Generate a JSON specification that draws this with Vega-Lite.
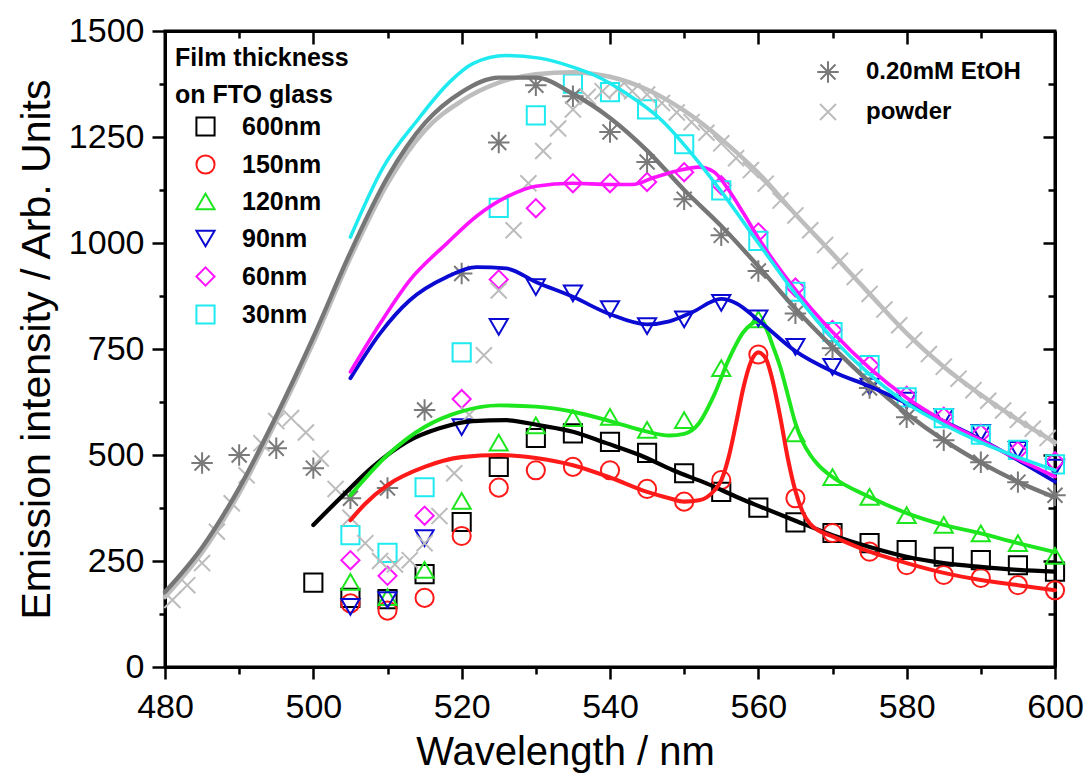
{
  "$schema": "https://vega.github.io/schema/vega-lite/v6.json",
  "width": 890,
  "height": 636,
  "autosize": {"type": "none"},
  "padding": {"left": 165, "top": 31, "right": 37, "bottom": 115},
  "background": "white",
  "config": {
    "view": {"stroke": "black", "strokeWidth": 3},
    "font": "Liberation Sans",
    "legend": {"padding": 0}
  },
  "datasets": {
    "film": [
      {"s":"600nm","x":500,"y":199},{"s":"600nm","x":505,"y":163},{"s":"600nm","x":510,"y":160},{"s":"600nm","x":515,"y":219},{"s":"600nm","x":520,"y":342},{"s":"600nm","x":525,"y":472},{"s":"600nm","x":530,"y":540},{"s":"600nm","x":535,"y":551},{"s":"600nm","x":540,"y":531},{"s":"600nm","x":545,"y":505},{"s":"600nm","x":550,"y":457},{"s":"600nm","x":555,"y":413},{"s":"600nm","x":560,"y":376},{"s":"600nm","x":565,"y":341},{"s":"600nm","x":570,"y":316},{"s":"600nm","x":575,"y":292},{"s":"600nm","x":580,"y":276},{"s":"600nm","x":585,"y":260},{"s":"600nm","x":590,"y":252},{"s":"600nm","x":595,"y":240},{"s":"600nm","x":600,"y":225},
      {"s":"150nm","x":505,"y":150},{"s":"150nm","x":510,"y":133},{"s":"150nm","x":515,"y":163},{"s":"150nm","x":520,"y":309},{"s":"150nm","x":525,"y":423},{"s":"150nm","x":530,"y":464},{"s":"150nm","x":535,"y":472},{"s":"150nm","x":540,"y":464},{"s":"150nm","x":545,"y":420},{"s":"150nm","x":550,"y":390},{"s":"150nm","x":555,"y":441},{"s":"150nm","x":560,"y":737},{"s":"150nm","x":565,"y":398},{"s":"150nm","x":570,"y":316},{"s":"150nm","x":575,"y":272},{"s":"150nm","x":580,"y":240},{"s":"150nm","x":585,"y":217},{"s":"150nm","x":590,"y":210},{"s":"150nm","x":595,"y":193},{"s":"150nm","x":600,"y":181},
      {"s":"120nm","x":505,"y":201},{"s":"120nm","x":510,"y":165},{"s":"120nm","x":515,"y":229},{"s":"120nm","x":520,"y":392},{"s":"120nm","x":525,"y":529},{"s":"120nm","x":530,"y":570},{"s":"120nm","x":535,"y":587},{"s":"120nm","x":540,"y":590},{"s":"120nm","x":545,"y":559},{"s":"120nm","x":550,"y":582},{"s":"120nm","x":555,"y":705},{"s":"120nm","x":560,"y":820},{"s":"120nm","x":565,"y":551},{"s":"120nm","x":570,"y":448},{"s":"120nm","x":575,"y":401},{"s":"120nm","x":580,"y":358},{"s":"120nm","x":585,"y":335},{"s":"120nm","x":590,"y":315},{"s":"120nm","x":595,"y":292},{"s":"120nm","x":600,"y":262},
      {"s":"90nm","x":505,"y":142},{"s":"90nm","x":510,"y":158},{"s":"90nm","x":515,"y":304},{"s":"90nm","x":520,"y":566},{"s":"90nm","x":525,"y":802},{"s":"90nm","x":530,"y":896},{"s":"90nm","x":535,"y":881},{"s":"90nm","x":540,"y":844},{"s":"90nm","x":545,"y":804},{"s":"90nm","x":550,"y":820},{"s":"90nm","x":555,"y":859},{"s":"90nm","x":560,"y":822},{"s":"90nm","x":565,"y":755},{"s":"90nm","x":570,"y":708},{"s":"90nm","x":575,"y":661},{"s":"90nm","x":580,"y":628},{"s":"90nm","x":585,"y":590},{"s":"90nm","x":590,"y":552},{"s":"90nm","x":595,"y":512},{"s":"90nm","x":600,"y":470},
      {"s":"60nm","x":505,"y":252},{"s":"60nm","x":510,"y":215},{"s":"60nm","x":515,"y":357},{"s":"60nm","x":520,"y":632},{"s":"60nm","x":525,"y":914},{"s":"60nm","x":530,"y":1082},{"s":"60nm","x":535,"y":1141},{"s":"60nm","x":540,"y":1141},{"s":"60nm","x":545,"y":1144},{"s":"60nm","x":550,"y":1167},{"s":"60nm","x":555,"y":1136},{"s":"60nm","x":560,"y":1025},{"s":"60nm","x":565,"y":895},{"s":"60nm","x":570,"y":795},{"s":"60nm","x":575,"y":712},{"s":"60nm","x":580,"y":640},{"s":"60nm","x":585,"y":590},{"s":"60nm","x":590,"y":550},{"s":"60nm","x":595,"y":510},{"s":"60nm","x":600,"y":485},
      {"s":"30nm","x":505,"y":311},{"s":"30nm","x":510,"y":269},{"s":"30nm","x":515,"y":424},{"s":"30nm","x":520,"y":742},{"s":"30nm","x":525,"y":1083},{"s":"30nm","x":530,"y":1301},{"s":"30nm","x":535,"y":1376},{"s":"30nm","x":540,"y":1356},{"s":"30nm","x":545,"y":1315},{"s":"30nm","x":550,"y":1233},{"s":"30nm","x":555,"y":1124},{"s":"30nm","x":560,"y":1005},{"s":"30nm","x":565,"y":885},{"s":"30nm","x":570,"y":790},{"s":"30nm","x":575,"y":712},{"s":"30nm","x":580,"y":636},{"s":"30nm","x":585,"y":587},{"s":"30nm","x":590,"y":548},{"s":"30nm","x":595,"y":512},{"s":"30nm","x":600,"y":478}
    ],
    "ref": [
      {"s":"0.20mM EtOH","x":485,"y":481},{"s":"0.20mM EtOH","x":490,"y":500},{"s":"0.20mM EtOH","x":495,"y":516},{"s":"0.20mM EtOH","x":500,"y":469},{"s":"0.20mM EtOH","x":505,"y":398},{"s":"0.20mM EtOH","x":510,"y":422},{"s":"0.20mM EtOH","x":515,"y":606},{"s":"0.20mM EtOH","x":520,"y":928},{"s":"0.20mM EtOH","x":525,"y":1237},{"s":"0.20mM EtOH","x":530,"y":1372},{"s":"0.20mM EtOH","x":535,"y":1346},{"s":"0.20mM EtOH","x":540,"y":1262},{"s":"0.20mM EtOH","x":545,"y":1191},{"s":"0.20mM EtOH","x":550,"y":1103},{"s":"0.20mM EtOH","x":555,"y":1018},{"s":"0.20mM EtOH","x":560,"y":934},{"s":"0.20mM EtOH","x":565,"y":834},{"s":"0.20mM EtOH","x":570,"y":752},{"s":"0.20mM EtOH","x":575,"y":658},{"s":"0.20mM EtOH","x":580,"y":589},{"s":"0.20mM EtOH","x":585,"y":535},{"s":"0.20mM EtOH","x":590,"y":483},{"s":"0.20mM EtOH","x":595,"y":436},{"s":"0.20mM EtOH","x":600,"y":405},
      {"s":"powder","x":481,"y":158},{"s":"powder","x":483,"y":193},{"s":"powder","x":485,"y":245},{"s":"powder","x":487,"y":319},{"s":"powder","x":489,"y":386},{"s":"powder","x":491,"y":452},{"s":"powder","x":493,"y":528},{"s":"powder","x":495,"y":580},{"s":"powder","x":497,"y":587},{"s":"powder","x":499,"y":553},{"s":"powder","x":501,"y":492},{"s":"powder","x":503,"y":420},{"s":"powder","x":505,"y":352},{"s":"powder","x":507,"y":292},{"s":"powder","x":509,"y":250},{"s":"powder","x":511,"y":242},{"s":"powder","x":513,"y":252},{"s":"powder","x":515,"y":292},{"s":"powder","x":517,"y":356},{"s":"powder","x":519,"y":457},{"s":"powder","x":521,"y":595},{"s":"powder","x":523,"y":735},{"s":"powder","x":525,"y":888},{"s":"powder","x":527,"y":1030},{"s":"powder","x":529,"y":1141},{"s":"powder","x":531,"y":1217},{"s":"powder","x":533,"y":1270},{"s":"powder","x":535,"y":1315},{"s":"powder","x":537,"y":1345},{"s":"powder","x":539,"y":1358},{"s":"powder","x":541,"y":1362},{"s":"powder","x":543,"y":1358},{"s":"powder","x":545,"y":1350},{"s":"powder","x":547,"y":1330},{"s":"powder","x":549,"y":1308},{"s":"powder","x":551,"y":1285},{"s":"powder","x":553,"y":1260},{"s":"powder","x":555,"y":1235},{"s":"powder","x":557,"y":1200},{"s":"powder","x":559,"y":1172},{"s":"powder","x":561,"y":1140},{"s":"powder","x":563,"y":1100},{"s":"powder","x":565,"y":1065},{"s":"powder","x":567,"y":1030},{"s":"powder","x":569,"y":995},{"s":"powder","x":571,"y":958},{"s":"powder","x":573,"y":920},{"s":"powder","x":575,"y":880},{"s":"powder","x":577,"y":843},{"s":"powder","x":579,"y":806},{"s":"powder","x":581,"y":771},{"s":"powder","x":583,"y":738},{"s":"powder","x":585,"y":708},{"s":"powder","x":587,"y":680},{"s":"powder","x":589,"y":653},{"s":"powder","x":591,"y":628},{"s":"powder","x":593,"y":605},{"s":"powder","x":595,"y":583},{"s":"powder","x":597,"y":562},{"s":"powder","x":599,"y":540}
    ],
    "fits": [
      {"s":"powder","x":480,"y":165},{"s":"powder","x":485,"y":270},{"s":"powder","x":490,"y":410},{"s":"powder","x":495,"y":580},{"s":"powder","x":500,"y":765},{"s":"powder","x":505,"y":965},{"s":"powder","x":510,"y":1140},{"s":"powder","x":515,"y":1265},{"s":"powder","x":520,"y":1335},{"s":"powder","x":525,"y":1378},{"s":"powder","x":530,"y":1398},{"s":"powder","x":535,"y":1403},{"s":"powder","x":540,"y":1392},{"s":"powder","x":545,"y":1362},{"s":"powder","x":550,"y":1312},{"s":"powder","x":555,"y":1245},{"s":"powder","x":560,"y":1165},{"s":"powder","x":565,"y":1068},{"s":"powder","x":570,"y":975},{"s":"powder","x":575,"y":880},{"s":"powder","x":580,"y":787},{"s":"powder","x":585,"y":708},{"s":"powder","x":590,"y":642},{"s":"powder","x":595,"y":583},{"s":"powder","x":600,"y":530},
      {"s":"0.20mM EtOH","x":480,"y":177},{"s":"0.20mM EtOH","x":485,"y":282},{"s":"0.20mM EtOH","x":490,"y":422},{"s":"0.20mM EtOH","x":495,"y":592},{"s":"0.20mM EtOH","x":500,"y":778},{"s":"0.20mM EtOH","x":505,"y":978},{"s":"0.20mM EtOH","x":510,"y":1155},{"s":"0.20mM EtOH","x":515,"y":1282},{"s":"0.20mM EtOH","x":520,"y":1356},{"s":"0.20mM EtOH","x":525,"y":1390},{"s":"0.20mM EtOH","x":530,"y":1390},{"s":"0.20mM EtOH","x":535,"y":1352},{"s":"0.20mM EtOH","x":540,"y":1295},{"s":"0.20mM EtOH","x":545,"y":1218},{"s":"0.20mM EtOH","x":550,"y":1125},{"s":"0.20mM EtOH","x":555,"y":1040},{"s":"0.20mM EtOH","x":560,"y":945},{"s":"0.20mM EtOH","x":565,"y":845},{"s":"0.20mM EtOH","x":570,"y":755},{"s":"0.20mM EtOH","x":575,"y":672},{"s":"0.20mM EtOH","x":580,"y":598},{"s":"0.20mM EtOH","x":585,"y":535},{"s":"0.20mM EtOH","x":590,"y":482},{"s":"0.20mM EtOH","x":595,"y":437},{"s":"0.20mM EtOH","x":600,"y":400},
      {"s":"600nm","x":500,"y":335},{"s":"600nm","x":503.6,"y":398},{"s":"600nm","x":508,"y":472},{"s":"600nm","x":512.6,"y":531},{"s":"600nm","x":517,"y":563},{"s":"600nm","x":521.5,"y":580},{"s":"600nm","x":526,"y":582},{"s":"600nm","x":530.5,"y":570},{"s":"600nm","x":535,"y":555},{"s":"600nm","x":539.5,"y":528},{"s":"600nm","x":544,"y":500},{"s":"600nm","x":548.5,"y":464},{"s":"600nm","x":553,"y":433},{"s":"600nm","x":557.5,"y":398},{"s":"600nm","x":560,"y":380},{"s":"600nm","x":565,"y":345},{"s":"600nm","x":570,"y":311},{"s":"600nm","x":575,"y":283},{"s":"600nm","x":580,"y":260},{"s":"600nm","x":585,"y":245},{"s":"600nm","x":590,"y":236},{"s":"600nm","x":595,"y":229},{"s":"600nm","x":600,"y":225},
      {"s":"150nm","x":505,"y":346},{"s":"150nm","x":507,"y":385},{"s":"150nm","x":510,"y":429},{"s":"150nm","x":515,"y":472},{"s":"150nm","x":520,"y":495},{"s":"150nm","x":525,"y":500},{"s":"150nm","x":530,"y":493},{"s":"150nm","x":535,"y":476},{"s":"150nm","x":540,"y":447},{"s":"150nm","x":545,"y":413},{"s":"150nm","x":548,"y":398},{"s":"150nm","x":550,"y":390},{"s":"150nm","x":552,"y":393},{"s":"150nm","x":554,"y":415},{"s":"150nm","x":555,"y":440},{"s":"150nm","x":556,"y":495},{"s":"150nm","x":557,"y":575},{"s":"150nm","x":558,"y":660},{"s":"150nm","x":559,"y":720},{"s":"150nm","x":560,"y":742},{"s":"150nm","x":561,"y":728},{"s":"150nm","x":562,"y":670},{"s":"150nm","x":563,"y":585},{"s":"150nm","x":564,"y":490},{"s":"150nm","x":565,"y":415},{"s":"150nm","x":566,"y":365},{"s":"150nm","x":567,"y":337},{"s":"150nm","x":568,"y":323},{"s":"150nm","x":570,"y":308},{"s":"150nm","x":575,"y":272},{"s":"150nm","x":580,"y":245},{"s":"150nm","x":585,"y":222},{"s":"150nm","x":590,"y":205},{"s":"150nm","x":595,"y":193},{"s":"150nm","x":600,"y":181},
      {"s":"120nm","x":505,"y":405},{"s":"120nm","x":510,"y":500},{"s":"120nm","x":515,"y":566},{"s":"120nm","x":520,"y":603},{"s":"120nm","x":525,"y":617},{"s":"120nm","x":530,"y":614},{"s":"120nm","x":535,"y":602},{"s":"120nm","x":540,"y":580},{"s":"120nm","x":545,"y":555},{"s":"120nm","x":548,"y":546},{"s":"120nm","x":550,"y":550},{"s":"120nm","x":552,"y":575},{"s":"120nm","x":554,"y":640},{"s":"120nm","x":556,"y":725},{"s":"120nm","x":558,"y":790},{"s":"120nm","x":560,"y":815},{"s":"120nm","x":561,"y":800},{"s":"120nm","x":562,"y":755},{"s":"120nm","x":563,"y":705},{"s":"120nm","x":564,"y":640},{"s":"120nm","x":565,"y":575},{"s":"120nm","x":566,"y":530},{"s":"120nm","x":567,"y":500},{"s":"120nm","x":568,"y":478},{"s":"120nm","x":570,"y":448},{"s":"120nm","x":575,"y":401},{"s":"120nm","x":580,"y":363},{"s":"120nm","x":585,"y":335},{"s":"120nm","x":590,"y":315},{"s":"120nm","x":595,"y":292},{"s":"120nm","x":600,"y":271},
      {"s":"90nm","x":505,"y":681},{"s":"90nm","x":509,"y":787},{"s":"90nm","x":513,"y":865},{"s":"90nm","x":518,"y":920},{"s":"90nm","x":522,"y":943},{"s":"90nm","x":526,"y":940},{"s":"90nm","x":530,"y":908},{"s":"90nm","x":535,"y":873},{"s":"90nm","x":540,"y":832},{"s":"90nm","x":545,"y":808},{"s":"90nm","x":548,"y":815},{"s":"90nm","x":551,"y":836},{"s":"90nm","x":555,"y":868},{"s":"90nm","x":557,"y":858},{"s":"90nm","x":560,"y":818},{"s":"90nm","x":565,"y":745},{"s":"90nm","x":570,"y":697},{"s":"90nm","x":575,"y":662},{"s":"90nm","x":580,"y":622},{"s":"90nm","x":585,"y":580},{"s":"90nm","x":590,"y":537},{"s":"90nm","x":595,"y":488},{"s":"90nm","x":600,"y":437},
      {"s":"60nm","x":505,"y":696},{"s":"60nm","x":509,"y":810},{"s":"60nm","x":513,"y":912},{"s":"60nm","x":518,"y":999},{"s":"60nm","x":522,"y":1063},{"s":"60nm","x":526,"y":1108},{"s":"60nm","x":530,"y":1134},{"s":"60nm","x":535,"y":1141},{"s":"60nm","x":540,"y":1138},{"s":"60nm","x":543,"y":1138},{"s":"60nm","x":546,"y":1155},{"s":"60nm","x":549,"y":1170},{"s":"60nm","x":552,"y":1179},{"s":"60nm","x":554,"y":1168},{"s":"60nm","x":556,"y":1125},{"s":"60nm","x":558,"y":1070},{"s":"60nm","x":560,"y":1012},{"s":"60nm","x":565,"y":890},{"s":"60nm","x":570,"y":790},{"s":"60nm","x":575,"y":705},{"s":"60nm","x":580,"y":635},{"s":"60nm","x":585,"y":580},{"s":"60nm","x":590,"y":535},{"s":"60nm","x":595,"y":490},{"s":"60nm","x":600,"y":449},
      {"s":"30nm","x":505,"y":1014},{"s":"30nm","x":509.4,"y":1178},{"s":"30nm","x":514,"y":1289},{"s":"30nm","x":518.4,"y":1380},{"s":"30nm","x":521.5,"y":1423},{"s":"30nm","x":526,"y":1442},{"s":"30nm","x":530.5,"y":1436},{"s":"30nm","x":535,"y":1415},{"s":"30nm","x":538,"y":1395},{"s":"30nm","x":542,"y":1355},{"s":"30nm","x":547,"y":1289},{"s":"30nm","x":551,"y":1211},{"s":"30nm","x":555.5,"y":1110},{"s":"30nm","x":560,"y":1000},{"s":"30nm","x":565,"y":880},{"s":"30nm","x":570,"y":775},{"s":"30nm","x":575,"y":690},{"s":"30nm","x":580,"y":622},{"s":"30nm","x":585,"y":572},{"s":"30nm","x":590,"y":530},{"s":"30nm","x":595,"y":495},{"s":"30nm","x":600,"y":464}
    ]
  },
  "layer": [
    {
      "data": {"name": "film"},
      "mark": {"type": "point", "filled": false, "size": 330, "strokeWidth": 2, "opacity": 1},
      "encoding": {
        "x": {"field": "x", "type": "quantitative", "scale": {"domain": [480, 600], "nice": false, "zero": false},
          "axis": {"orient": "bottom", "values": [480,490,500,510,520,530,540,550,560,570,580,590,600], "format": "d",
            "labelExpr": "datum.value % 20 === 0 ? datum.label : ''",
            "tickSize": {"condition": {"test": "datum.value % 20 !== 0", "value": 7}, "value": 12},
            "tickWidth": 2.5, "tickColor": "black", "domainColor": "black", "domainWidth": 3, "grid": false,
            "labelFontSize": 34, "labelColor": "black", "labelPadding": 11, "labelFlush": false, "labelOverlap": false,
            "title": "Wavelength / nm", "titleFontSize": 40, "titleFontWeight": "normal", "titleColor": "black", "titlePadding": 8,
            "titleX": 400}},
        "y": {"field": "y", "type": "quantitative", "scale": {"domain": [0, 1500], "nice": false},
          "axis": {"orient": "left", "values": [0,125,250,375,500,625,750,875,1000,1125,1250,1375,1500], "format": "d",
            "labelExpr": "datum.value % 250 === 0 ? datum.label : ''",
            "tickSize": {"condition": {"test": "datum.value % 250 !== 0", "value": 6}, "value": 13},
            "tickWidth": 2.5, "tickColor": "black", "domainColor": "black", "domainWidth": 3, "grid": false,
            "labelFontSize": 34, "labelColor": "black", "labelPadding": 8, "labelFlush": false, "labelOverlap": false,
            "title": "Emission intensity / Arb. Units", "titleFontSize": 41, "titleFontWeight": "normal", "titleColor": "black", "titlePadding": 10}},
        "color": {"field": "s", "type": "nominal",
          "scale": {"domain": ["600nm","150nm","120nm","90nm","60nm","30nm"], "range": ["#000000","#ff1a1a","#1ee61e","#0a0ad2","#ff14ff","#1eeaf0"]},
          "legend": {"orient": "none", "legendX": 10, "legendY": 15, "title": ["Film thickness", "on FTO glass"],
            "titleFontSize": 25, "titleFontWeight": "bold", "titleColor": "black", "titleLineHeight": 37, "titlePadding": 6,
            "labelFontSize": 25, "labelFontWeight": "bold", "labelColor": "black", "labelOffset": 24, "symbolOffset": 18,
            "rowPadding": 11, "symbolStrokeWidth": 2, "symbolSize": 330}},
        "shape": {"field": "s", "type": "nominal",
          "scale": {"domain": ["600nm","150nm","120nm","90nm","60nm","30nm"], "range": ["square","circle","triangle-up","triangle-down","diamond","square"]},
          "legend": {"orient": "none", "legendX": 10, "legendY": 15, "title": ["Film thickness", "on FTO glass"],
            "titleFontSize": 25, "titleFontWeight": "bold", "titleColor": "black", "titleLineHeight": 37, "titlePadding": 6,
            "labelFontSize": 25, "labelFontWeight": "bold", "labelColor": "black", "labelOffset": 24, "symbolOffset": 18,
            "rowPadding": 11, "symbolStrokeWidth": 2, "symbolSize": 330}}
      }
    },
    {
      "data": {"name": "ref"},
      "mark": {"type": "point", "filled": false, "size": 460, "strokeWidth": 2, "opacity": 1},
      "encoding": {
        "x": {"field": "x", "type": "quantitative", "axis": null},
        "y": {"field": "y", "type": "quantitative", "axis": null},
        "color": {"field": "s", "type": "nominal",
          "scale": {"domain": ["0.20mM EtOH","powder"], "range": ["#7a7a7a","#bcbcbc"]},
          "legend": {"orient": "none", "legendX": 651, "legendY": 29, "title": null,
            "labelFontSize": 24, "labelFontWeight": "bold", "labelColor": "black", "labelOffset": 26, "symbolOffset": 0,
            "rowPadding": 12, "symbolStrokeWidth": 2, "symbolSize": 460}},
        "shape": {"field": "s", "type": "nominal",
          "scale": {"domain": ["0.20mM EtOH","powder"], "range": ["M-1,0L1,0M0,-1L0,1M-0.7,-0.7L0.7,0.7M-0.7,0.7L0.7,-0.7", "M-0.75,-0.75L0.75,0.75M-0.75,0.75L0.75,-0.75"]},
          "legend": {"orient": "none", "legendX": 651, "legendY": 29, "title": null,
            "labelFontSize": 24, "labelFontWeight": "bold", "labelColor": "black", "labelOffset": 26, "symbolOffset": 0,
            "rowPadding": 12, "symbolStrokeWidth": 2, "symbolSize": 460}}
      }
    },
    {
      "data": {"name": "fits"},
      "mark": {"type": "line", "interpolate": "monotone", "strokeCap": "round"},
      "encoding": {
        "x": {"field": "x", "type": "quantitative",
          "axis": {"orient": "top", "values": [480,490,500,510,520,530,540,550,560,570,580,590,600], "labels": false, "title": null,
            "tickSize": {"condition": {"test": "datum.value % 20 !== 0", "value": -7}, "value": -13},
            "tickWidth": 2.5, "tickColor": "black", "domainColor": "black", "domainWidth": 3, "grid": false}},
        "y": {"field": "y", "type": "quantitative",
          "axis": {"orient": "right", "values": [0,125,250,375,500,625,750,875,1000,1125,1250,1375,1500], "labels": false, "title": null,
            "tickSize": {"condition": {"test": "datum.value % 250 !== 0", "value": -7}, "value": -12},
            "tickWidth": 2.5, "tickColor": "black", "domainColor": "black", "domainWidth": 3, "grid": false}},
        "color": {"field": "s", "type": "nominal", "legend": null,
          "scale": {"domain": ["powder","0.20mM EtOH","600nm","150nm","120nm","90nm","60nm","30nm"], "range": ["#bdbdbd","#767676","#000000","#ff1a1a","#1ee61e","#0a0ad2","#ff14ff","#1eeaf0"]}},
        "strokeWidth": {"field": "s", "type": "nominal", "legend": null,
          "scale": {"domain": ["powder","0.20mM EtOH","600nm","150nm","120nm","90nm","60nm","30nm"], "range": [4.5,3.5,4,4,4,4,4,4]}}
      }
    }
  ],
  "resolve": {
    "axis": {"x": "independent", "y": "independent"},
    "scale": {"color": "independent", "shape": "independent", "strokeWidth": "independent"},
    "legend": {"color": "independent", "shape": "independent"}
  }
}
